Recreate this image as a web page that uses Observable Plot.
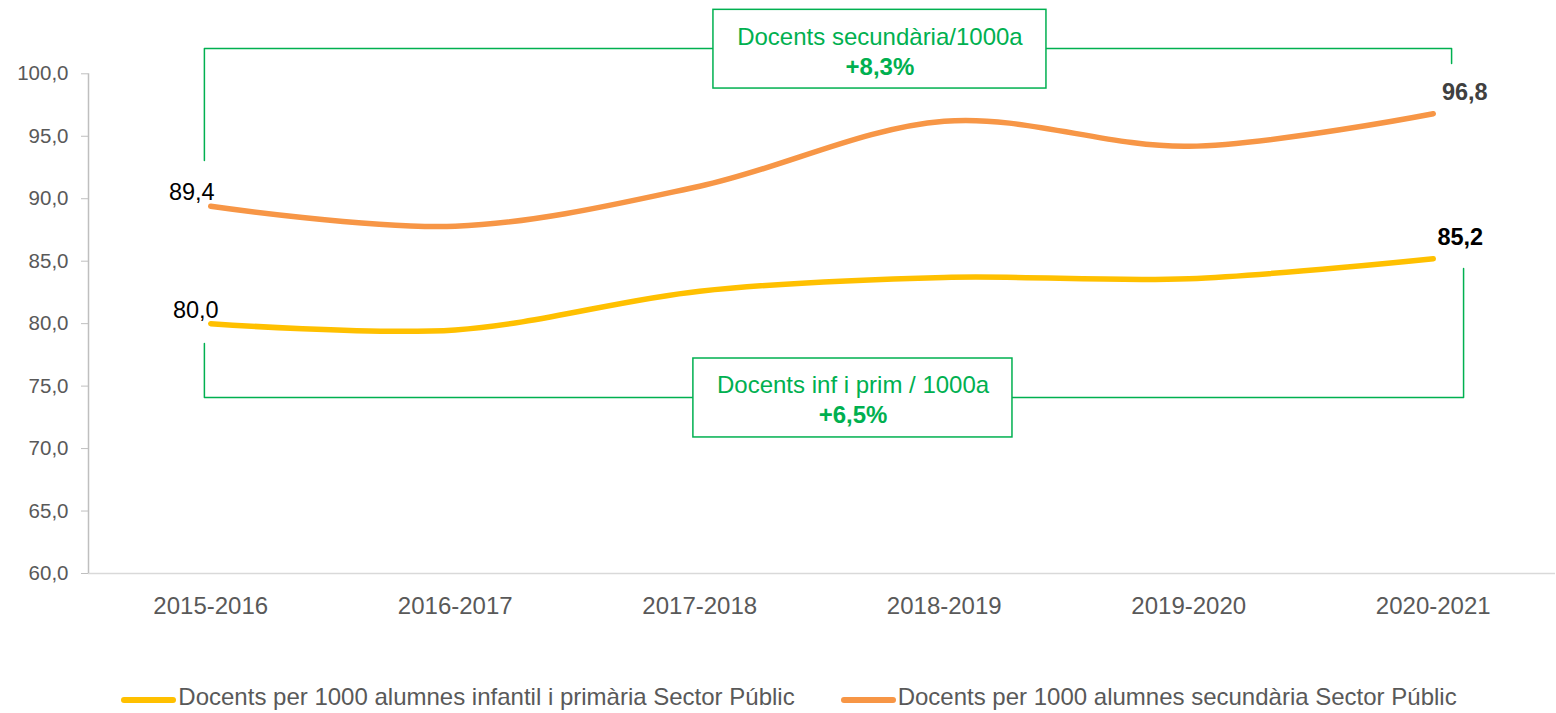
<!DOCTYPE html>
<html>
<head>
<meta charset="utf-8">
<script src="https://cdn.jsdelivr.net/npm/d3@7"></script>
<script src="https://cdn.jsdelivr.net/npm/@observablehq/plot@0.6"></script>
<style>
  html, body { margin: 0; padding: 0; background: #fff; }
  body { width: 1556px; height: 713px; overflow: hidden; font-family: "Liberation Sans", Arial, Helvetica, sans-serif; }
  #legend { display: flex; justify-content: center; align-items: center; gap: 46px; margin-top: 13px; padding-left: 22px; font-size: 24px; line-height: 28px; color: #595959; }
  .item { display: flex; align-items: center; gap: 2px; }
  .sw { width: 55px; height: 6px; border-radius: 3px; margin-top: 6px; }
</style>
</head>
<body>
<div id="chart"></div>
<div id="legend"></div>
<script>
const years = ["2015-2016", "2016-2017", "2017-2018", "2018-2019", "2019-2020", "2020-2021"];
const primaria = [80.0, 79.5, 82.6, 83.7, 83.6, 85.2];
const secundaria = [89.4, 87.8, 91.0, 96.2, 94.2, 96.8];
const seriesNames = [
  "Docents per 1000 alumnes infantil i primària Sector Públic",
  "Docents per 1000 alumnes secundària Sector Públic"
];
const seriesColors = ["#FFC000", "#F79646"];
const yTicks = [60, 65, 70, 75, 80, 85, 90, 95, 100];
const boxTitles = ["Docents secundària/1000a", "Docents inf i prim / 1000a"];
const boxChanges = ["+8,3%", "+6,5%"];

const fmt = d => d.toFixed(1).replace(".", ",");
const green = "#00B050";

const data = years.flatMap((y, i) => [
  {i, v: primaria[i], s: seriesNames[0]},
  {i, v: secundaria[i], s: seriesNames[1]}
]);

// annotation geometry (x in category index units, y in value units)
const upperBracket = [{x: -0.026, y: 93.06}, {x: -0.026, y: 102.03}, {x: 5.075, y: 102.03}, {x: 5.075, y: 100.82}];
const lowerBracket = [{x: -0.026, y: 78.41}, {x: -0.026, y: 74.09}, {x: 5.124, y: 74.09}, {x: 5.124, y: 84.41}];
const boxes = [
  {x1: 2.056, x2: 3.418, y1: 98.82, y2: 105.12, cx: 2.737, t1: 102.93, t2: 100.53, title: boxTitles[0], change: boxChanges[0]},
  {x1: 1.974, x2: 3.279, y1: 70.89, y2: 77.21, cx: 2.627, t1: 75.05, t2: 72.65, title: boxTitles[1], change: boxChanges[1]}
];

const last = years.length - 1;

const plot = Plot.plot({
  width: 1556,
  height: 670,
  marginLeft: 88,
  marginRight: 1,
  marginTop: 73.3,
  marginBottom: 97,
  style: {fontFamily: '"Liberation Sans", Arial, Helvetica, sans-serif', background: "#fff", overflow: "visible"},
  x: {domain: [-0.5, 5.5], axis: null},
  y: {domain: [60, 100], axis: null},
  color: {domain: seriesNames, range: seriesColors},
  marks: [
    Plot.ruleY([60], {stroke: "#d9d9d9", strokeWidth: 1.5}),
    Plot.ruleX([-0.5], {y1: 60, y2: 100, stroke: "#bfbfbf", strokeWidth: 1.5}),
    Plot.axisY({ticks: yTicks, tickSize: 7, tickPadding: 13, tickFormat: fmt, fontSize: 20.5, stroke: "#bfbfbf", fill: "#595959", label: null}),
    Plot.axisX({ticks: d3.range(years.length), tickFormat: i => years[i], tickSize: 0, tickPadding: 23, fontSize: 24, fill: "#595959", label: null}),
    Plot.line(upperBracket, {x: "x", y: "y", stroke: green, strokeWidth: 1.5}),
    Plot.line(lowerBracket, {x: "x", y: "y", stroke: green, strokeWidth: 1.5}),
    Plot.rect(boxes, {x1: "x1", x2: "x2", y1: "y1", y2: "y2", fill: "white", stroke: green, strokeWidth: 1.5}),
    Plot.text(boxes, {x: "cx", y: "t1", text: "title", fill: green, fontSize: 24}),
    Plot.text(boxes, {x: "cx", y: "t2", text: "change", fill: green, fontSize: 24, fontWeight: "bold"}),
    Plot.line(data, {x: "i", y: "v", z: "s", stroke: "s", curve: "catmull-rom", strokeWidth: 5.5, strokeLinecap: "round"}),
    Plot.text([{i: 0, v: secundaria[0]}], {x: "i", y: "v", text: d => fmt(d.v), dx: -19, dy: -14, fontSize: 23.5, fill: "#000"}),
    Plot.text([{i: 0, v: primaria[0]}], {x: "i", y: "v", text: d => fmt(d.v), dx: -15, dy: -13.5, fontSize: 23.5, fill: "#000"}),
    Plot.text([{i: last, v: secundaria[last]}], {x: "i", y: "v", text: d => fmt(d.v), dx: 31.5, dy: -21.7, fontSize: 23.5, fontWeight: "bold", fill: "#404040"}),
    Plot.text([{i: last, v: primaria[last]}], {x: "i", y: "v", text: d => fmt(d.v), dx: 27, dy: -21, fontSize: 23.5, fontWeight: "bold", fill: "#000"})
  ]
});
document.getElementById("chart").appendChild(plot);

const legend = d3.select("#legend");
seriesNames.forEach((name, k) => {
  const item = legend.append("div").attr("class", "item");
  item.append("div").attr("class", "sw").style("background", seriesColors[k]);
  item.append("span").text(name);
});
</script>
</body>
</html>
